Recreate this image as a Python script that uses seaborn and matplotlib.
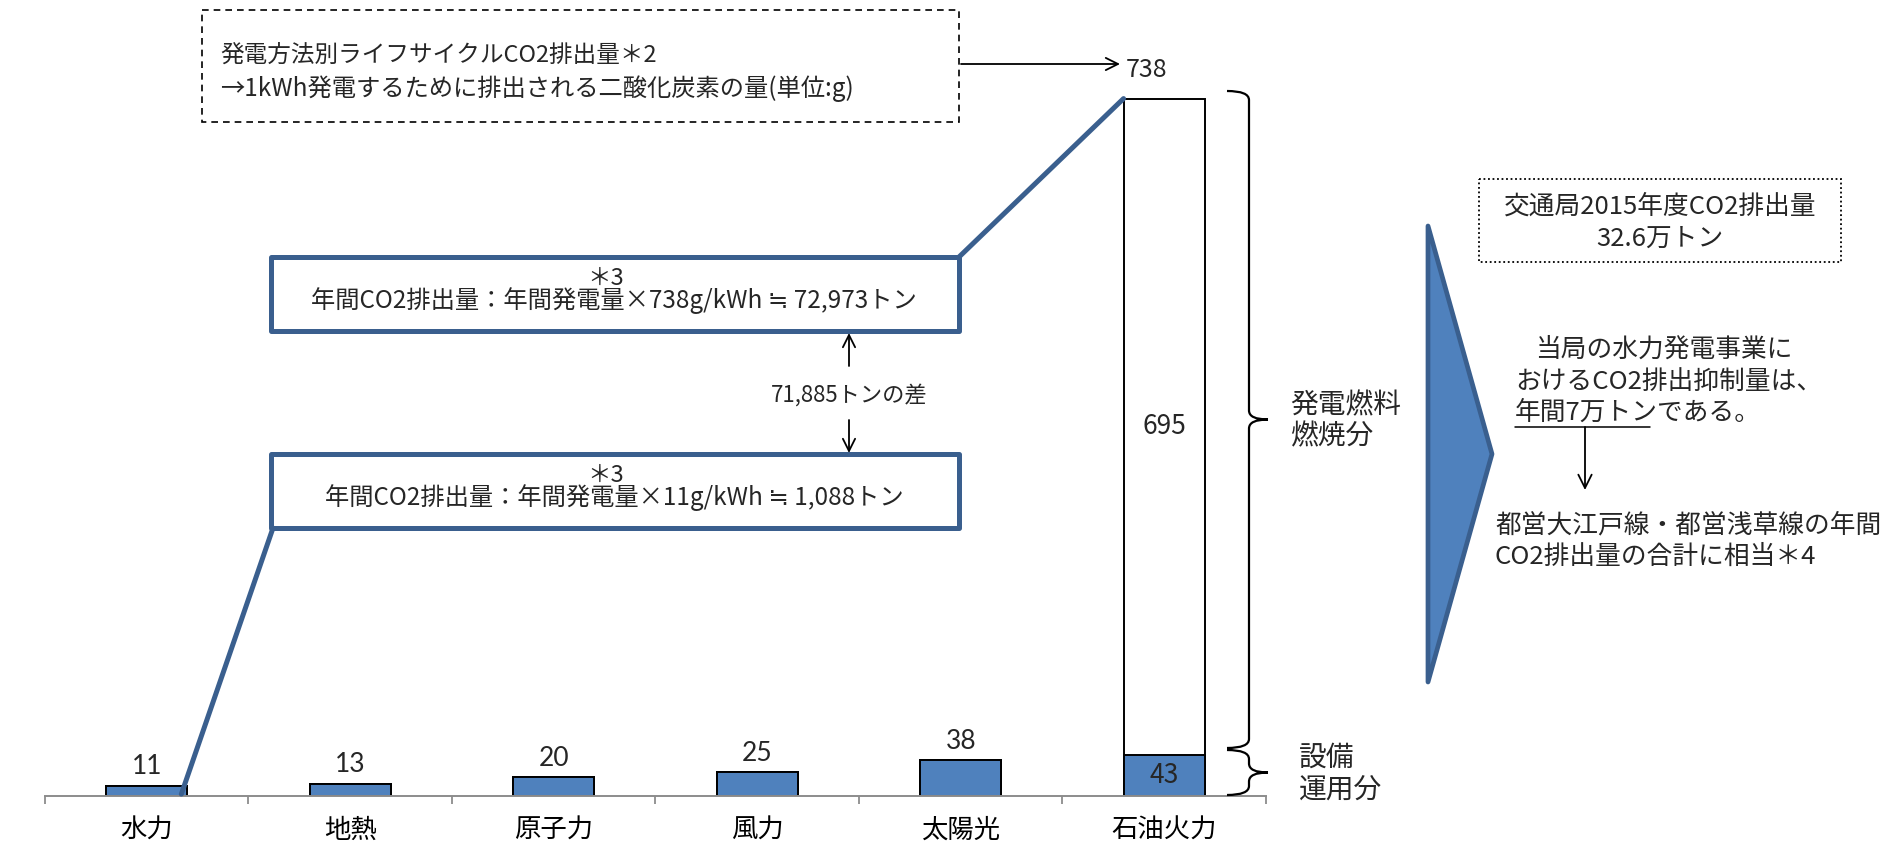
import matplotlib
matplotlib.use("Agg")
import numpy as np
import pandas as pd
import seaborn as sns
import matplotlib.pyplot as plt
from matplotlib.patches import Rectangle, Polygon, FancyArrowPatch, PathPatch, ConnectionPatch
from matplotlib.path import Path
from matplotlib.transforms import Affine2D
from matplotlib.lines import Line2D

# ---- data -------------------------------------------------------------
categories = ["水力", "地熱", "原子力", "風力", "太陽光", "石油火力"]
facility = [11, 13, 20, 25, 38, 43]      # 設備運用分 (g/kWh)
fuel = [0, 0, 0, 0, 0, 695]              # 発電燃料燃焼分 (g/kWh)
total = [a + b for a, b in zip(facility, fuel)]

annual_hydro_t = 1088    # 年間CO2排出量 (水力, トン)
annual_oil_t = 72973     # 年間CO2排出量 (石油火力, トン)
bureau_2015 = "32.6"     # 交通局2015年度CO2排出量 (万トン)

# ---- style ------------------------------------------------------------
sns.set_theme(style="white")
plt.rcParams["font.family"] = ["Noto Sans CJK JP", "DejaVu Sans"]

W, H = 1883, 851
BLUE = "#4F81BD"
NAVY = "#3A5F8E"

fig = plt.figure(figsize=(W / 100, H / 100), dpi=100)
# pixel coordinates measured from the top-left corner of the canvas
T = Affine2D().scale(1 / W, -1 / H).translate(0, 1) + fig.transFigure

ax = fig.add_axes([45 / W, 55 / H, 1221 / W, 756 / H])
df = pd.DataFrame({"category": categories, "total": total, "facility": facility})

sns.barplot(data=df, x="category", y="total", color="white", saturation=1,
            edgecolor="black", linewidth=1.4, width=0.4, errorbar=None, ax=ax)
sns.barplot(data=df, x="category", y="facility", color=BLUE, saturation=1,
            edgecolor="black", linewidth=1.4, width=0.4, errorbar=None, ax=ax)

ax.set_xlim(-0.5, 5.5)
ax.set_ylim(0, 800)
ax.set_xlabel("")
ax.set_ylabel("")
ax.set_yticks([])
sns.despine(ax=ax, left=True)
ax.spines["bottom"].set_color("#8C8C8C")
ax.spines["bottom"].set_linewidth(1.4)
ax.set_xticks(np.arange(-0.5, len(categories), 1), minor=True)
ax.tick_params(axis="x", which="minor", bottom=True, length=6, width=1.3,
               color="#8C8C8C", direction="out")
ax.tick_params(axis="x", which="major", length=0, pad=15, labelsize=19,
               labelcolor="black")

# value labels
for i, (f, fu, t) in enumerate(zip(facility, fuel, total)):
    if fu == 0:
        ax.annotate(f"{t}", (i, t), xytext=(0, 19), textcoords="offset pixels",
                    ha="center", va="center", fontsize=19,
                    family=["Lato", "DejaVu Sans"])
    else:
        ax.annotate(f"{f}", (i, f / 2), ha="center", va="center", fontsize=19)
        ax.annotate(f"{fu}", (i, f + fu / 2), ha="center", va="center", fontsize=19)
        ax.annotate(f"{t}", (i, t), xytext=(-18, 29), textcoords="offset pixels",
                    ha="center", va="center", fontsize=18)

# ---- title box ----------------------------------------------------------
fig.add_artist(Rectangle((202, 10), 757, 112, transform=T, fill=False,
                         ec="black", lw=1.2, ls=(0, (4, 3))))
fig.text(220, 55, "発電方法別ライフサイクルCO2排出量＊2", transform=T,
         ha="left", va="center", fontsize=17)
fig.text(220, 89, "→1kWh発電するために排出される二酸化炭素の量(単位:g)", transform=T,
         ha="left", va="center", fontsize=17.5)
fig.add_artist(FancyArrowPatch((961, 64), (1120, 64), transform=T,
                               arrowstyle="->", mutation_scale=22, lw=1.3,
                               color="black", shrinkA=0, shrinkB=0))

# ---- annual emission boxes ----------------------------------------------
boxes = [
    (257, f"年間CO2排出量：年間発電量×{total[-1]}g/kWh ≒ {annual_oil_t:,}トン"),
    (454, f"年間CO2排出量：年間発電量×{total[0]}g/kWh ≒ {annual_hydro_t:,}トン"),
]
for top, label in boxes:
    fig.add_artist(Rectangle((271, top), 688, 74, transform=T, fc="white",
                             ec=NAVY, lw=3.6, joinstyle="round"))
    fig.text(614, top + 44, label, transform=T, ha="center", va="center",
             fontsize=17.5)
    fig.text(606, top + 21, "＊3", transform=T, ha="center", va="center",
             fontsize=17)

# connectors from the boxes to the bars
fig.add_artist(ConnectionPatch(xyA=(959, 257), coordsA=T,
                               xyB=(5 - 0.2, total[-1]), coordsB=ax.transData,
                               color=NAVY, lw=3.6))
fig.add_artist(ConnectionPatch(xyA=(273, 528), coordsA=T,
                               xyB=(0.17, 2), coordsB=ax.transData,
                               color=NAVY, lw=3.6))

# difference between the two boxes
fig.add_artist(FancyArrowPatch((849, 366), (849, 333), transform=T,
                               arrowstyle="->", mutation_scale=22, lw=1.3,
                               color="black", shrinkA=0, shrinkB=0))
fig.add_artist(FancyArrowPatch((849, 420), (849, 453), transform=T,
                               arrowstyle="->", mutation_scale=22, lw=1.3,
                               color="black", shrinkA=0, shrinkB=0))
fig.text(849, 395, f"{annual_oil_t - annual_hydro_t:,}トンの差", transform=T,
         ha="center", va="center", fontsize=16)


# ---- braces beside the stacked bar ---------------------------------------
def brace(y0, y1, x0=1227, x1=1249, x2=1268, r=9):
    ym = (y0 + y1) / 2
    codes = [Path.MOVETO, Path.CURVE3, Path.CURVE3,
             Path.LINETO, Path.CURVE3, Path.CURVE3,
             Path.MOVETO, Path.CURVE3, Path.CURVE3,
             Path.LINETO, Path.CURVE3, Path.CURVE3]
    verts = [(x0, y0), (x1, y0), (x1, y0 + r),
             (x1, ym - r), (x1, ym), (x2, ym),
             (x2, ym), (x1, ym), (x1, ym + r),
             (x1, y1 - r), (x1, y1), (x0, y1)]
    fig.add_artist(PathPatch(Path(verts, codes), transform=T, fill=False,
                             ec="black", lw=1.6))


brace(91, 748)
brace(750, 795)
fig.text(1290, 405, "発電燃料", transform=T, ha="left", va="center", fontsize=20)
fig.text(1290, 436, "燃焼分", transform=T, ha="left", va="center", fontsize=20)
fig.text(1299, 758, "設備", transform=T, ha="left", va="center", fontsize=20)
fig.text(1299, 790, "運用分", transform=T, ha="left", va="center", fontsize=20)

# ---- right-hand summary ---------------------------------------------------
fig.add_artist(Polygon([(1428, 226), (1428, 682), (1492, 454)], closed=True,
                       transform=T, fc=BLUE, ec=NAVY, lw=3.4, joinstyle="round"))

fig.add_artist(Rectangle((1479, 179), 362, 83, transform=T, fill=False,
                         ec="black", lw=1.3, ls=(0, (1, 1.5))))
fig.text(1660, 207, "交通局2015年度CO2排出量", transform=T, ha="center",
         va="center", fontsize=18.5)
fig.text(1660, 239, f"{bureau_2015}万トン", transform=T, ha="center",
         va="center", fontsize=18.5)

fig.text(1535, 350, "当局の水力発電事業に", transform=T, ha="left",
         va="center", fontsize=18.5)
fig.text(1515, 382, "おけるCO2排出抑制量は、", transform=T, ha="left",
         va="center", fontsize=18.5)
fig.text(1515, 413, "年間7万トンである。", transform=T, ha="left",
         va="center", fontsize=18.5)
fig.add_artist(Line2D([1515, 1650], [427, 427], transform=T, color="black", lw=1.1))
fig.add_artist(FancyArrowPatch((1585, 427), (1585, 490), transform=T,
                               arrowstyle="->", mutation_scale=24, lw=1.3,
                               color="black", shrinkA=0, shrinkB=0))
fig.text(1495, 525, "都営大江戸線・都営浅草線の年間", transform=T, ha="left",
         va="center", fontsize=18.5)
fig.text(1495, 557, "CO2排出量の合計に相当＊4", transform=T, ha="left",
         va="center", fontsize=18.5)

fig.savefig("out.png", dpi=100)
